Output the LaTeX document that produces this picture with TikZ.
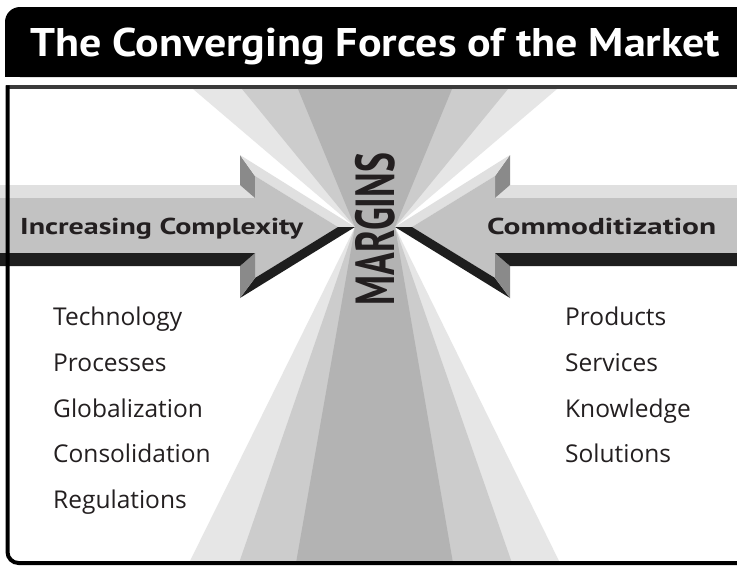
\documentclass[tikz,border=0pt]{standalone}
\usepackage{fontspec}
\setmainfont{PT Sans}
\newfontfamily\listfont{Open Sans}
\usepackage{graphicx}
\definecolor{ink}{HTML}{231F20}
\definecolor{bandA}{HTML}{E6E6E6}
\definecolor{bandB}{HTML}{CCCCCC}
\definecolor{bandC}{HTML}{B3B3B3}
\definecolor{arrface}{HTML}{C2C2C2}
\definecolor{arrtop}{HTML}{E0E0E0}
\definecolor{arrside}{HTML}{8A8A8A}
\definecolor{arrbot}{HTML}{1E1E1E}
\definecolor{framegray}{HTML}{3A3A3A}
\newsavebox\fitbox
\newcommand\fitto[2]{\sbox\fitbox{#2}\pgfmathsetmacro\fitratio{(#1)/\wd\fitbox}\scalebox{\fitratio}[1]{\usebox\fitbox}}
\newcommand\bevelarrow{%
  % top bevel of shaft
  \fill[arrtop] (0,185) -- (240,185) -- (255,198) -- (0,198) -- cycle;
  % upper barb side face
  \fill[arrside] (240,155) -- (255,176) -- (255,198) -- (240,185) -- cycle;
  % upper head bevel
  \fill[arrtop] (240,155) -- (355,227) -- (338,227) -- (255,176) -- cycle;
  % front face
  \fill[arrface] (0,198) -- (255,198) -- (255,176) -- (338,227) -- (255,278) -- (255,253) -- (0,253) -- cycle;
  % lower head bevel
  \fill[arrbot] (355,227) -- (240,298) -- (255,278) -- (338,227) -- cycle;
  % lower barb side face
  \fill[arrside] (240,266) -- (255,253) -- (255,278) -- (240,298) -- cycle;
  % bottom bevel of shaft
  \fill[arrbot] (0,253) -- (255,253) -- (240,266) -- (0,266) -- cycle;
}
\begin{document}
\begin{tikzpicture}[x=1pt,y=-1pt,
  listtext/.style={inner sep=0pt, anchor=base west, text=ink, font=\listfont\fontsize{24.5}{24.5}\selectfont},
  arrowtext/.style={inner sep=0pt, anchor=base west, text=ink, font=\fontsize{23}{23}\selectfont\bfseries},
  titletext/.style={inner sep=0pt, anchor=base west, text=white, font=\fontsize{40}{40}\selectfont\bfseries}]
\useasboundingbox (0,0) rectangle (737,566);
\fill[white] (0,0) rectangle (737,566);
% title bar
\fill[black, rounded corners=15pt] (5,7) rectangle (760,77);
\fill[black] (5,40) rectangle (40,77);
\node[titletext] (title) at (30,56) {\fitto{690pt}{The Converging Forces of the Market}};
% converging rays
\begin{scope}
  \clip (9,89) rectangle (737,561);
  \fill[bandA] (355,227) -- (193,89) -- (557,89) -- (395,227) -- cycle;
  \fill[bandB] (355,227) -- (242,89) -- (508,89) -- (395,227) -- cycle;
  \fill[bandC] (355,227) -- (298,89) -- (452,89) -- (395,227) -- cycle;
  \fill[bandA] (355,227) -- (189,563) -- (560,563) -- (395,227) -- cycle;
  \fill[bandB] (355,227) -- (239,563) -- (512,563) -- (395,227) -- cycle;
  \fill[bandC] (355,227) -- (296,563) -- (453,563) -- (395,227) -- cycle;
\end{scope}
% arrows
\bevelarrow
\begin{scope}[xshift=750pt, xscale=-1]
  \bevelarrow
\end{scope}
% frame
\draw[framegray, line width=3.5pt] (6,87) -- (737,87);
\draw[black, line width=4pt, rounded corners=11pt] (7.5,85.25) -- (7.5,563) -- (740,563);
% labels
\node[arrowtext] (inc) at (20,234) {\fitto{283pt}{Increasing Complexity}};
\node[arrowtext] (com) at (487,234) {\fitto{229pt}{Commoditization}};
\node[rotate=90, inner sep=0pt, text=ink, font=\fontsize{55}{55}\selectfont\bfseries] (margins) at (375,229) {\fitto{152pt}{MARGINS}};
% lists
\node[listtext] (l1) at (53,325) {Technology};
\node[listtext] (l2) at (53,371) {Processes};
\node[listtext] (l3) at (53,417) {Globalization};
\node[listtext] (l4) at (53,462) {Consolidation};
\node[listtext] (l5) at (53,508) {Regulations};
\node[listtext] (r1) at (565,325) {Products};
\node[listtext] (r2) at (565,371) {Services};
\node[listtext] (r3) at (565,417) {Knowledge};
\node[listtext] (r4) at (565,462) {Solutions};
\end{tikzpicture}
\end{document}
